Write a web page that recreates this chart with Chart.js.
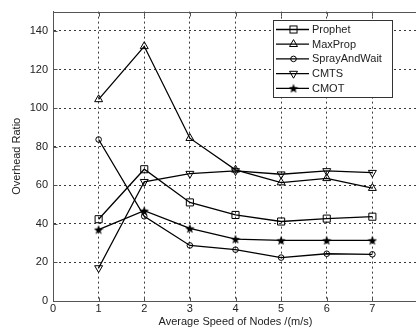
<!DOCTYPE html>
<html><head><meta charset="utf-8">
<script src="https://cdn.jsdelivr.net/npm/chart.js@4/dist/chart.umd.min.js"></script>
<style>
html,body{margin:0;padding:0;overflow:hidden;background:#fff}
#wrap{width:416px;height:334px;overflow:hidden;position:relative}
canvas{display:block}
</style>
</head><body>
<div id="wrap"><canvas id="c" width="424" height="334"></canvas></div>
<script>
// ---- data ----
const speeds = [1, 2, 3, 4, 5, 6, 7];
const seriesNames = ['Prophet', 'MaxProp', 'SprayAndWait', 'CMTS', 'CMOT'];
const prophet      = [42.4, 68.3, 51.1, 44.6, 41.2, 42.7, 43.7];
const maxProp      = [104.5, 132, 84.4, 68.0, 61.4, 63.6, 58.5];
const sprayAndWait = [83.7, 43.9, 28.8, 26.6, 22.5, 24.5, 24.2];
const cmts         = [17.1, 61.8, 66.0, 67.4, 65.7, 67.4, 66.5];
const cmot         = [37.0, 46.8, 37.6, 32.1, 31.4, 31.4, 31.4];
const xTickValues = [0, 1, 2, 3, 4, 5, 6, 7, 8];
const xTickLabels = ['0', '1', '2', '3', '4', '5', '6', '7', ''];
const yTickValues = [0, 20, 40, 60, 80, 100, 120, 140];
const xTitle = 'Average Speed of Nodes /(m/s)';
const yTitle = 'Overhead Ratio';

// ---- styling ----
const FONT = "'Liberation Sans', Arial, sans-serif";
const TXT = '#222';
const AXIS = '#555';

// filled pentagram marker
function starImage(size) {
  const c = document.createElement('canvas');
  c.width = size; c.height = size;
  const g = c.getContext('2d');
  const cx = size / 2, cy = size / 2 + 0.5, R = size / 2, r = R * 0.42;
  g.beginPath();
  for (let i = 0; i < 10; i++) {
    const rad = i % 2 ? r : R;
    const a = -Math.PI / 2 + i * Math.PI / 5;
    const px = cx + rad * Math.cos(a), py = cy + rad * Math.sin(a);
    i ? g.lineTo(px, py) : g.moveTo(px, py);
  }
  g.closePath();
  g.fillStyle = '#000';
  g.fill();
  return c;
}
const star = starImage(10);

const seriesValues = [prophet, maxProp, sprayAndWait, cmts, cmot];
const styles = [
  {pointStyle: 'rect', radius: 5, rotation: 0},
  {pointStyle: 'triangle', radius: 4.6, rotation: 0},
  {pointStyle: 'circle', radius: 2.8, rotation: 0},
  {pointStyle: 'triangle', radius: 4.6, rotation: 180},
  {pointStyle: star, radius: 5, rotation: 0}
];

const datasets = seriesNames.map((name, i) => ({
  label: name,
  data: speeds.map((s, j) => ({x: s, y: seriesValues[i][j]})),
  borderColor: '#000',
  borderWidth: 1.3,
  backgroundColor: 'rgba(0,0,0,0)',
  pointStyle: styles[i].pointStyle,
  pointRadius: styles[i].radius,
  pointRotation: styles[i].rotation,
  pointBorderColor: '#000',
  pointBorderWidth: 1,
  pointBackgroundColor: 'rgba(0,0,0,0)',
  tension: 0,
  fill: false
}));

function drawMarker(ctx, i, x, y) {
  const st = styles[i];
  ctx.save();
  ctx.strokeStyle = '#000'; ctx.lineWidth = 1;
  if (st.pointStyle === star) {
    ctx.drawImage(star, x - 5, y - 5, 10, 10);
  } else if (st.pointStyle === 'rect') {
    const s = st.radius * Math.SQRT1_2;
    ctx.strokeRect(x - s, y - s, 2 * s, 2 * s);
  } else if (st.pointStyle === 'circle') {
    ctx.beginPath(); ctx.arc(x, y, st.radius, 0, Math.PI * 2); ctx.stroke();
  } else {
    const r = st.radius;
    const rot = st.rotation * Math.PI / 180;
    ctx.beginPath();
    for (let k = 0; k < 3; k++) {
      const a = -Math.PI / 2 + rot + k * 2 * Math.PI / 3;
      const px = x + r * Math.cos(a), py = y + r * Math.sin(a);
      k ? ctx.lineTo(px, py) : ctx.moveTo(px, py);
    }
    ctx.closePath(); ctx.stroke();
  }
  ctx.restore();
}

const framePlugin = {
  id: 'frame',
  afterDatasetsDraw(chart) {
    const {ctx, chartArea: a, scales: {x, y}} = chart;
    ctx.save();
    ctx.setLineDash([]);
    ctx.strokeStyle = AXIS; ctx.lineWidth = 1;
    const L = Math.round(a.left) + 0.5, B = Math.round(a.bottom) + 0.5, T = Math.round(a.top) + 0.5;
    ctx.beginPath();
    ctx.moveTo(L, T); ctx.lineTo(a.right, T);
    ctx.moveTo(L, T); ctx.lineTo(L, B); ctx.lineTo(a.right, B);
    ctx.stroke();
    // inward ticks
    ctx.beginPath();
    x.ticks.forEach(t => {
      const px = Math.round(x.getPixelForValue(t.value)) + 0.5;
      ctx.moveTo(px, B); ctx.lineTo(px, B - 4);
      ctx.moveTo(px, T); ctx.lineTo(px, T + 4);
    });
    y.ticks.forEach(t => {
      const py = Math.round(y.getPixelForValue(t.value)) + 0.5;
      ctx.moveTo(L, py); ctx.lineTo(L + 4, py);
    });
    ctx.stroke();
    ctx.restore();
  }
};

const legendPlugin = {
  id: 'boxLegend',
  afterDraw(chart) {
    const {ctx} = chart;
    const bx = 273.5, by = 20.5, bw = 119, bh = 77;
    ctx.save();
    ctx.setLineDash([]);
    ctx.fillStyle = '#fff';
    ctx.fillRect(bx, by, bw, bh);
    ctx.strokeStyle = '#333'; ctx.lineWidth = 1;
    ctx.strokeRect(bx, by, bw, bh);
    ctx.font = '11px ' + FONT;
    ctx.fillStyle = TXT;
    ctx.textBaseline = 'middle';
    chart.data.datasets.forEach((ds, i) => {
      const yy = 29.5 + i * 14.7;
      ctx.strokeStyle = '#000'; ctx.lineWidth = 1.3;
      ctx.beginPath(); ctx.moveTo(276, yy); ctx.lineTo(309, yy); ctx.stroke();
      drawMarker(ctx, i, 293.5, yy);
      ctx.fillStyle = TXT;
      ctx.fillText(ds.label, 312, yy + 0.5);
    });
    ctx.restore();
  }
};

const gridColor = (ctx) => (ctx.tick && ctx.tick.value === 0) ? 'rgba(0,0,0,0)' : '#3a3a3a';

new Chart(document.getElementById('c'), {
  type: 'line',
  data: {datasets},
  options: {
    responsive: false,
    animation: false,
    devicePixelRatio: 1,
    layout: {padding: {top: 10, right: 1, left: 0, bottom: 0}},
    plugins: {legend: {display: false}, tooltip: {enabled: false}},
    scales: {
      x: {
        type: 'linear', min: 0, max: 8,
        afterBuildTicks: s => { s.ticks = xTickValues.map(v => ({value: v})); },
        afterFit: s => { s.height = 33; },
        grid: {color: gridColor, lineWidth: 1, drawTicks: false},
        border: {display: true, color: AXIS, width: 1, dash: [2, 3]},
        ticks: {padding: 1, color: TXT, font: {family: FONT, size: 11}, maxRotation: 0,
                callback: (v) => xTickLabels[xTickValues.indexOf(v)]},
        title: {display: true, text: xTitle, color: TXT, font: {family: FONT, size: 11}, padding: {top: 0, bottom: 5}}
      },
      y: {
        type: 'linear', min: 0, max: 150,
        afterBuildTicks: s => { s.ticks = yTickValues.map(v => ({value: v})); },
        afterFit: s => { s.width = 53; },
        grid: {color: gridColor, lineWidth: 1, drawTicks: false},
        border: {display: true, color: AXIS, width: 1, dash: [2, 3]},
        ticks: {padding: 5, color: TXT, font: {family: FONT, size: 11}},
        title: {display: true, text: yTitle, color: TXT, font: {family: FONT, size: 11}, padding: {top: 10, bottom: 0}}
      }
    }
  },
  plugins: [framePlugin, legendPlugin]
});
</script>
</body></html>
